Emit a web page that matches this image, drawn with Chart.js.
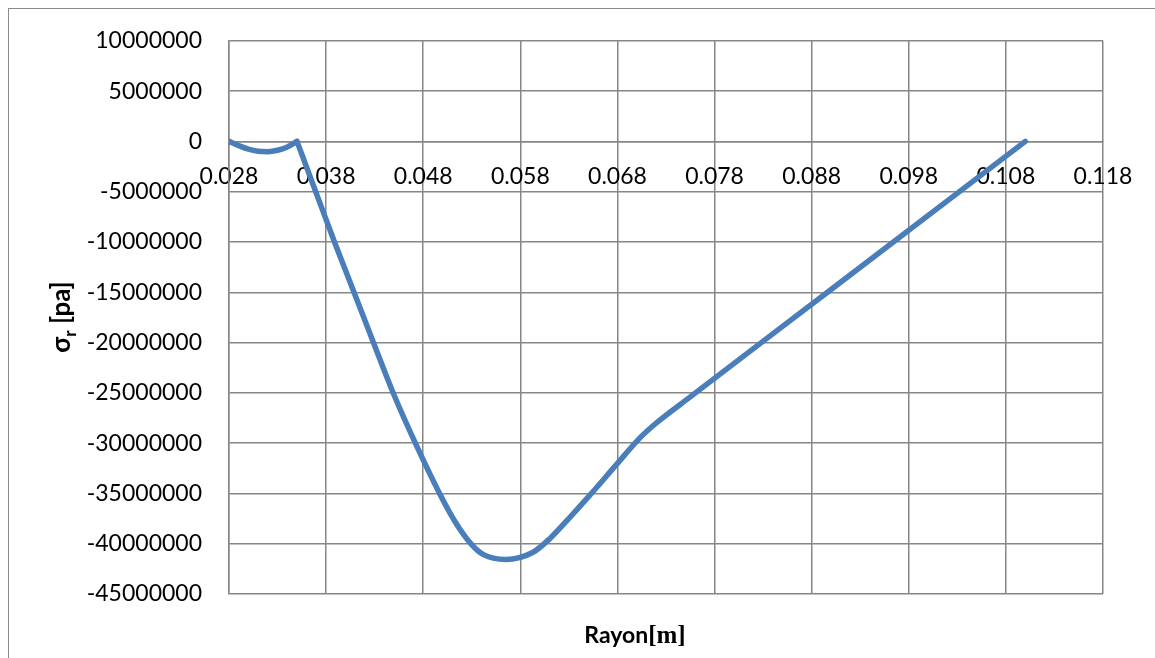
<!DOCTYPE html>
<html>
<head>
<meta charset="utf-8">
<script src="https://cdn.jsdelivr.net/npm/chart.js@4.4.1/dist/chart.umd.min.js"></script>
<style>
  html, body { margin: 0; padding: 0; background: #ffffff; }
  #wrap { width: 1155px; height: 658px; position: relative; }
</style>
</head>
<body>
<div id="wrap"><canvas id="c"></canvas></div>
<script>
// Radial stress profile, inner zone (r from 0.028 m to 0.035 m)
const rayonZone1 = [0.028, 0.029, 0.030, 0.031, 0.032, 0.033, 0.034, 0.035];
const sigmaZone1 = [0, -420000, -780000, -980000, -1020000, -880000, -550000, 0];

// Radial stress profile, outer zone (r from 0.035 m to 0.110 m)
const rayonZone2 = [0.0350, 0.03695, 0.03886, 0.04086, 0.04287, 0.04492, 0.04724, 0.04971, 0.05125, 0.05297,
                    0.05416, 0.05650, 0.05931, 0.06103, 0.06308, 0.06514, 0.06789, 0.07029, 0.07200, 0.07509,
                    0.09000, 0.11000];
const sigmaZone2 = [0, -5050000, -10000000, -14970000, -19990000, -25040000, -30100000, -35050000, -37760000, -40070000,
                    -41060000, -41560000, -40850000, -39500000, -37400000, -35200000, -32140000, -29500000, -28000000, -25700000,
                    -14720000, 0];

// Axis ticks
const xTickValues = [0.028, 0.038, 0.048, 0.058, 0.068, 0.078, 0.088, 0.098, 0.108, 0.118];
const yMin = -45000000, yMax = 10000000, yStep = 5000000;

const xTitleMain = 'Rayon';
const xTitleUnit = '[m]';
const yTitleSymbol = 'σ';
const yTitleSub = 'r';
const yTitleUnit = ' [pa]';

const LINE_COLOR = '#4a7ebb';
const GRID_COLOR = '#868686';
const TICK_FONT = { family: 'Lato, "Noto Sans", sans-serif', size: 23 };

const toPoints = (xs, ys) => xs.map((x, i) => ({ x: x, y: ys[i] }));

// Frame around the whole chart plus the two axis titles
const decorations = {
  id: 'decorations',
  beforeDraw(chart) {
    const ctx = chart.ctx;
    ctx.save();
    ctx.fillStyle = '#ffffff';
    ctx.fillRect(0, 0, chart.width, chart.height);
    ctx.strokeStyle = '#8a8a8a';
    ctx.lineWidth = 1;
    ctx.strokeRect(8.5, 8.5, chart.width + 20, chart.height + 20);
    ctx.restore();
  },
  afterDraw(chart) {
    const ctx = chart.ctx;
    ctx.save();
    ctx.fillStyle = '#000000';
    ctx.textBaseline = 'alphabetic';

    // x title: "Rayon" in sans bold, "[m]" in serif bold
    const fMain = 'bold 23px Lato, "Noto Sans", sans-serif';
    const fUnit = 'bold 25px "Liberation Serif", "DejaVu Serif", serif';
    ctx.font = fMain;
    const wMain = ctx.measureText(xTitleMain).width;
    ctx.font = fUnit;
    const wUnit = ctx.measureText(xTitleUnit).width;
    const cx = 635, baseY = 643;
    const x0 = cx - (wMain + wUnit) / 2;
    ctx.font = fMain;
    ctx.fillText(xTitleMain, x0, baseY);
    ctx.font = fUnit;
    ctx.fillText(xTitleUnit, x0 + wMain, baseY);

    // y title: sigma with subscript r, rotated
    const fSym = 'bold 26px Lato, "Noto Sans", sans-serif';
    const fSub = 'bold 17px Lato, "Noto Sans", sans-serif';
    ctx.font = fSym;
    const wSym = ctx.measureText(yTitleSymbol).width;
    const wU = ctx.measureText(yTitleUnit).width;
    ctx.font = fSub;
    const wSub = ctx.measureText(yTitleSub).width;
    const total = wSym + wSub + wU;
    ctx.translate(70, 317);
    ctx.rotate(-Math.PI / 2);
    let sx = -total / 2;
    ctx.font = fSym;
    ctx.fillText(yTitleSymbol, sx, 0);
    sx += wSym;
    ctx.font = fSub;
    ctx.fillText(yTitleSub, sx, 6);
    sx += wSub;
    ctx.font = fSym;
    ctx.fillText(yTitleUnit, sx, 0);
    ctx.restore();
  }
};

const lineStyle = {
  borderColor: LINE_COLOR,
  backgroundColor: LINE_COLOR,
  borderWidth: 5.5,
  pointRadius: 0,
  pointHoverRadius: 0,
  fill: false,
  cubicInterpolationMode: 'monotone',
  borderCapStyle: 'round',
  borderJoinStyle: 'round'
};

new Chart(document.getElementById('c'), {
  type: 'line',
  data: {
    datasets: [
      Object.assign({ label: 'σr zone 1', data: toPoints(rayonZone1, sigmaZone1) }, lineStyle),
      Object.assign({ label: 'σr zone 2', data: toPoints(rayonZone2, sigmaZone2) }, lineStyle)
    ]
  },
  options: {
    responsive: true,
    maintainAspectRatio: false,
    animation: false,
    layout: { padding: { left: 0, top: 39, right: 52, bottom: 64 } },
    plugins: {
      legend: { display: false },
      tooltip: { enabled: false },
      title: { display: false }
    },
    scales: {
      x: {
        type: 'linear',
        min: 0.028,
        max: 0.118,
        position: { y: 0 },
        afterFit(scale) { scale.height = 0; },
        afterBuildTicks(scale) { scale.ticks = xTickValues.map(v => ({ value: v })); },
        grid: { color: GRID_COLOR, lineWidth: 1.5, drawTicks: false },
        border: { color: GRID_COLOR, width: 1.5 },
        ticks: {
          color: '#000000',
          font: TICK_FONT,
          padding: 21,
          maxRotation: 0,
          autoSkip: false,
          callback: (v) => Number(v).toFixed(3)
        }
      },
      y: {
        type: 'linear',
        min: yMin,
        max: yMax,
        position: 'left',
        afterFit(scale) { scale.width = 229; },
        grid: { color: GRID_COLOR, lineWidth: 1.5, drawTicks: false },
        border: { color: GRID_COLOR, width: 1.5 },
        ticks: {
          stepSize: yStep,
          color: '#000000',
          font: TICK_FONT,
          padding: 27,
          callback: (v) => String(v)
        }
      }
    }
  },
  plugins: [decorations]
});
</script>
</body>
</html>
